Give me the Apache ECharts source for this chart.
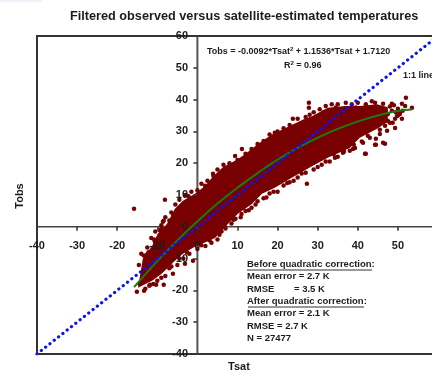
<!DOCTYPE html>
<html>
<head>
<meta charset="utf-8">
<title>Filtered observed versus satellite-estimated temperatures</title>
<script src="https://cdn.jsdelivr.net/npm/echarts@6/dist/echarts.min.js"></script>
<style>
	html, body { margin: 0; padding: 0; background: #fff; overflow: hidden; }
	#main { width: 432px; height: 372px; filter: blur(0.45px); }
</style>
</head>
<body>
<div id="main"></div>
<script>
// outline of the solid part of the cloud
var upperEdge = [[-13.6,-10],[-11.3,-6],[-9.9,-2.2],[-7.6,0.9],[-5.6,5.7],[-3.6,8.2],[-0.6,10.4],[1.9,12.8],[3.9,15.8],[6.4,18.8],[9.4,20.8],[11.8,22.7],[15.1,26],[18.6,29],[25.6,33.3],[28.8,34.9],[32.5,37.4],[36.8,38],[40.5,38],[44.8,38.5],[47.5,37.5]];
var lowerEdge = [[-14.8,-19.2],[-11.3,-17],[-8.9,-14.8],[-5.6,-10.7],[-3.6,-8.5],[-1.1,-6.6],[4.4,-3.5],[7.6,0.9],[10.1,4.1],[13.6,7.2],[16.1,10.4],[19.3,12.3],[23.1,15.1],[28.8,19.2],[32.5,21.7],[38,24.8],[40.5,28],[44.8,30.8],[47.5,33]];

// single stations that stick out of the cloud
var strayPoints = [[-15.8,5.7],[-8.1,8.5],[-8.4,1.9],[-8.6,1.6],[-8.9,-0.6],[-10.6,-4.7],[-12.6,-8.8],[27.8,39],[27.8,37.4],[52,40.6],[53.5,37.4],[23.8,34],[19.3,29.6],[11.1,24.5],[9.4,22.3],[3.9,16.7],[1.9,12.9],[27.3,13.5],[42,23],[44.5,25.8],[46.8,26.1],[38.8,24.5],[36.3,23.3],[34.3,21.7],[44.5,27.7],[-15.1,-20.4],[-13.3,-20.1],[-10.3,-18.2],[-8.4,-18.2],[-11.8,-18.2],[-6.1,-14.8],[-3.1,-11.6],[-1.1,-10.7],[44.3,39],[46.3,38.7],[48.5,38.7],[51,38.7],[51,34],[49.3,31.1],[47.3,30.2],[46.3,26.4],[44.3,25.8],[41.8,23],[39.3,24.8],[38,23.9],[36.5,23.6],[41.3,26.4],[42.5,28.6],[45.5,29.2],[48,32.7],[49.8,34.9],[50.5,35.8]];
var upperFringe = [[-14,-8.5],[-12.5,-6.5],[-11.5,-3.5],[-10.5,-1.5],[-9,0.5],[-8,3],[-6.5,4.5],[-5.5,7],[-4.5,8.5],[-3,10],[-1.5,11],[0,11.5],[1,13.5],[2.5,14.5],[4,16],[5,18],[6.5,19.5],[8,20],[10,21],[12,23],[13.5,24.5],[15,26],[16.5,27],[18,29],[20,30],[21.5,31],[23,32],[25,34],[27,34.5],[29,36],[30.5,37],[32,38],[33.5,38.5],[35,38.5],[37,39],[38.5,38.5],[40,39]];
var lowerFringe = [[-13,-19.5],[-12,-18.5],[-10,-17],[-8,-15.5],[-7,-13],[-5,-12],[-3.5,-10],[-2,-8.5],[0,-7],[2,-6],[3.5,-5],[5,-4],[6,-1.5],[7,-0.5],[8.5,1],[9.5,2.5],[11,4],[12,5],[13.5,6],[15,8],[16.5,9],[18,10.5],[20,11],[21.5,13],[23,14],[25,15.5],[27,17],[29,18],[31,19.5],[33,20.5],[35,22]];
var endPoints = [[46.8,37.1],[47.5,35.5],[48.5,36.5],[49.3,34],[50,37.1],[50.5,35.5],[51.2,36.5],[51.8,38],[47.5,33.3],[48.7,32.7],[46.8,31.8],[49,38.2],[50,35],[48,37.8],[49.5,36]];
// second row of dots that roughen the edge of the solid part
var edgeDots = [[-14.6,-12],[-13.4,-9],[-12.2,-8],[-10.8,-4],[-9.4,-1],[-7,2],[-6,3.5],[-4,6.5],[-2.2,9.6],[-0.2,9.8],[2,11.5],[3.2,13],[5.4,16],[7.4,18.2],[9,19],[11,20.5],[14.5,23],[17,25.5],[19.5,27.5],[22,30],[24,31.5],[26.5,33],[28,35.2],[31.5,36],[34.5,37.5],[36,37],[39.5,37.5],[42,38.5],[43.5,39.5],[-14.4,-18],[-11,-18],[-9,-16],[-6.5,-12.5],[-4.5,-10],[-2.6,-8],[1,-5.8],[3,-4.2],[5.5,-2.5],[6.8,0.2],[9,2.2],[10.8,3],[12.8,5.2],[14.5,7],[17.2,9.2],[19,11],[22.4,13.8],[24,14.5],[26,16.8],[30,18.8],[32,20.5],[34,22.8],[36.5,23.8],[39,25.8],[41,26.8],[43,28],[45.5,30.5]];

var fitTsat = [-15.8, -10, -5, 0, 5, 10, 15, 20, 25, 30, 35, 40, 45, 50, 53.5];
var fitTobs = [-19, -10.8, -4.3, 1.7, 7.3, 12.3, 16.9, 21.1, 24.8, 28, 30.8, 33.1, 35, 36.4, 36.9];
var lineTsat = [-40, 60];
var lineTobs = [-40, 60];
var axisSpan = [-40, 60];
var axisZero = [0, 0];

var titleText = 'Filtered observed versus satellite-estimated temperatures';
var FONT = '"Liberation Sans", Arial, sans-serif';
var DARK_RED = '#780000';

function pairs(xs, ys) {
	return xs.map(function(x, i) { return [x, ys[i]]; });
}

function label(text, x, y, opts) {
	return {
		type: 'text', x: x, y: y, z: 50, rotation: (opts && opts.rotation) || 0,
		style: {
			text: text,
			font: 'bold ' + ((opts && opts.size) || 9.5) + 'px ' + FONT,
			fill: '#1c1c1c',
			align: (opts && opts.align) || 'left',
			verticalAlign: 'middle',
			rich: opts && opts.rich
		}
	};
}

function underline(x1, x2, y) {
	return { type: 'line', z: 50, shape: { x1: x1, y1: y, x2: x2, y2: y }, style: { stroke: '#333', lineWidth: 1 } };
}

var supStyle = { sup: { font: 'bold 6px ' + FONT, fill: '#1c1c1c', verticalAlign: 'top', padding: [0, 0, 5, 0] } };

var bandOutline = upperEdge.concat(lowerEdge.slice().reverse());

var myChart = echarts.init(document.getElementById('main'));
var option = {
	animation: false,
	backgroundColor: '#fff',
	title: {
		text: titleText, left: 65, top: 5,
		textStyle: { fontFamily: FONT, fontWeight: 'bold', fontSize: 12.7, color: '#1c1c1c' }
	},
	grid: { left: 37, top: 36, width: 401, height: 318, outerBoundsMode: 'none', show: true, borderColor: '#333', borderWidth: 2, backgroundColor: 'transparent' },
	xAxis: {
		type: 'value', min: -40, max: 60, interval: 10, z: 6,
		splitLine: { show: false },
		axisLine: { onZero: true, lineStyle: { opacity: 0 } },
		axisTick: { show: true, length: 4, lineStyle: { color: '#333', width: 1.5 } },
		// labels stay at the frame edge by default, pull them back up to the zero line
		axisLabel: { margin: -114, fontFamily: FONT, fontWeight: 'bold', fontSize: 11, color: '#1c1c1c' }
	},
	yAxis: {
		type: 'value', min: -40, max: 60, interval: 10, z: 6,
		splitLine: { show: false },
		axisLine: { onZero: true, lineStyle: { opacity: 0 } },
		axisTick: { show: true, length: 4, lineStyle: { color: '#333', width: 1.5 } },
		axisLabel: { margin: -151, fontFamily: FONT, fontWeight: 'bold', fontSize: 11, color: '#1c1c1c' }
	},
	series: [{
		// the two axis lines, kept under the cloud while the labels stay above it
		type: 'line', z: 1, showSymbol: false, silent: true,
		data: pairs(axisSpan, axisZero),
		lineStyle: { color: '#444', width: 1.5 }
	}, {
		type: 'line', z: 1, showSymbol: false, silent: true,
		data: pairs(axisZero, axisSpan),
		lineStyle: { color: '#555', width: 2 }
	}, {
		type: 'custom', z: 2, silent: true,
		data: bandOutline,
		encode: { x: 0, y: 1 },
		renderItem: function(params, api) {
			if (params.dataIndex !== 0) {
				return;
			}
			return {
				type: 'polygon',
				shape: { points: bandOutline.map(function(p) { return api.coord(p); }) },
				style: { fill: DARK_RED }
			};
		}
	}, {
		type: 'scatter', z: 2, symbolSize: 4.5, silent: true,
		data: upperFringe.concat(lowerFringe, strayPoints, endPoints, edgeDots),
		itemStyle: { color: DARK_RED, opacity: 1 }
	}, {
		type: 'line', z: 3, smooth: true, showSymbol: false, silent: true,
		data: pairs(fitTsat, fitTobs),
		lineStyle: { color: '#1a7a12', width: 2 }
	}, {
		type: 'line', z: 4, showSymbol: false, silent: true,
		data: pairs(lineTsat, lineTobs),
		lineStyle: { color: '#0a14f0', width: 3.2, type: [0.1, 5.4], cap: 'round' }
	}],
	graphic: [
		{ type: 'rect', z: 50, shape: { x: 0, y: 0, width: 42, height: 2 }, style: { fill: '#eaf1fb' } },
		label('Tobs = -0.0092*Tsat{sup|2} + 1.1536*Tsat + 1.7120', 207, 52, { size: 9, rich: supStyle }),
		label('R{sup|2} = 0.96', 284, 66, { size: 9, rich: supStyle }),
		label('1:1 line', 403, 76, { size: 9 }),
		label('Before quadratic correction:', 247, 264),
		underline(247, 372, 270),
		label('Mean error = 2.7 K', 247, 276),
		label('RMSE', 247, 289),
		label('= 3.5 K', 294, 289),
		label('After quadratic correction:', 247, 301),
		underline(248, 364, 307),
		label('Mean error = 2.1 K', 247, 313),
		label('RMSE = 2.7 K', 247, 326),
		label('N = 27477', 247, 338),
		label('Tsat', 239, 367, { size: 11, align: 'center' }),
		label('Tobs', 20, 196, { size: 11, align: 'center', rotation: Math.PI / 2 })
	]
};
myChart.setOption(option);
</script>
</body>
</html>
